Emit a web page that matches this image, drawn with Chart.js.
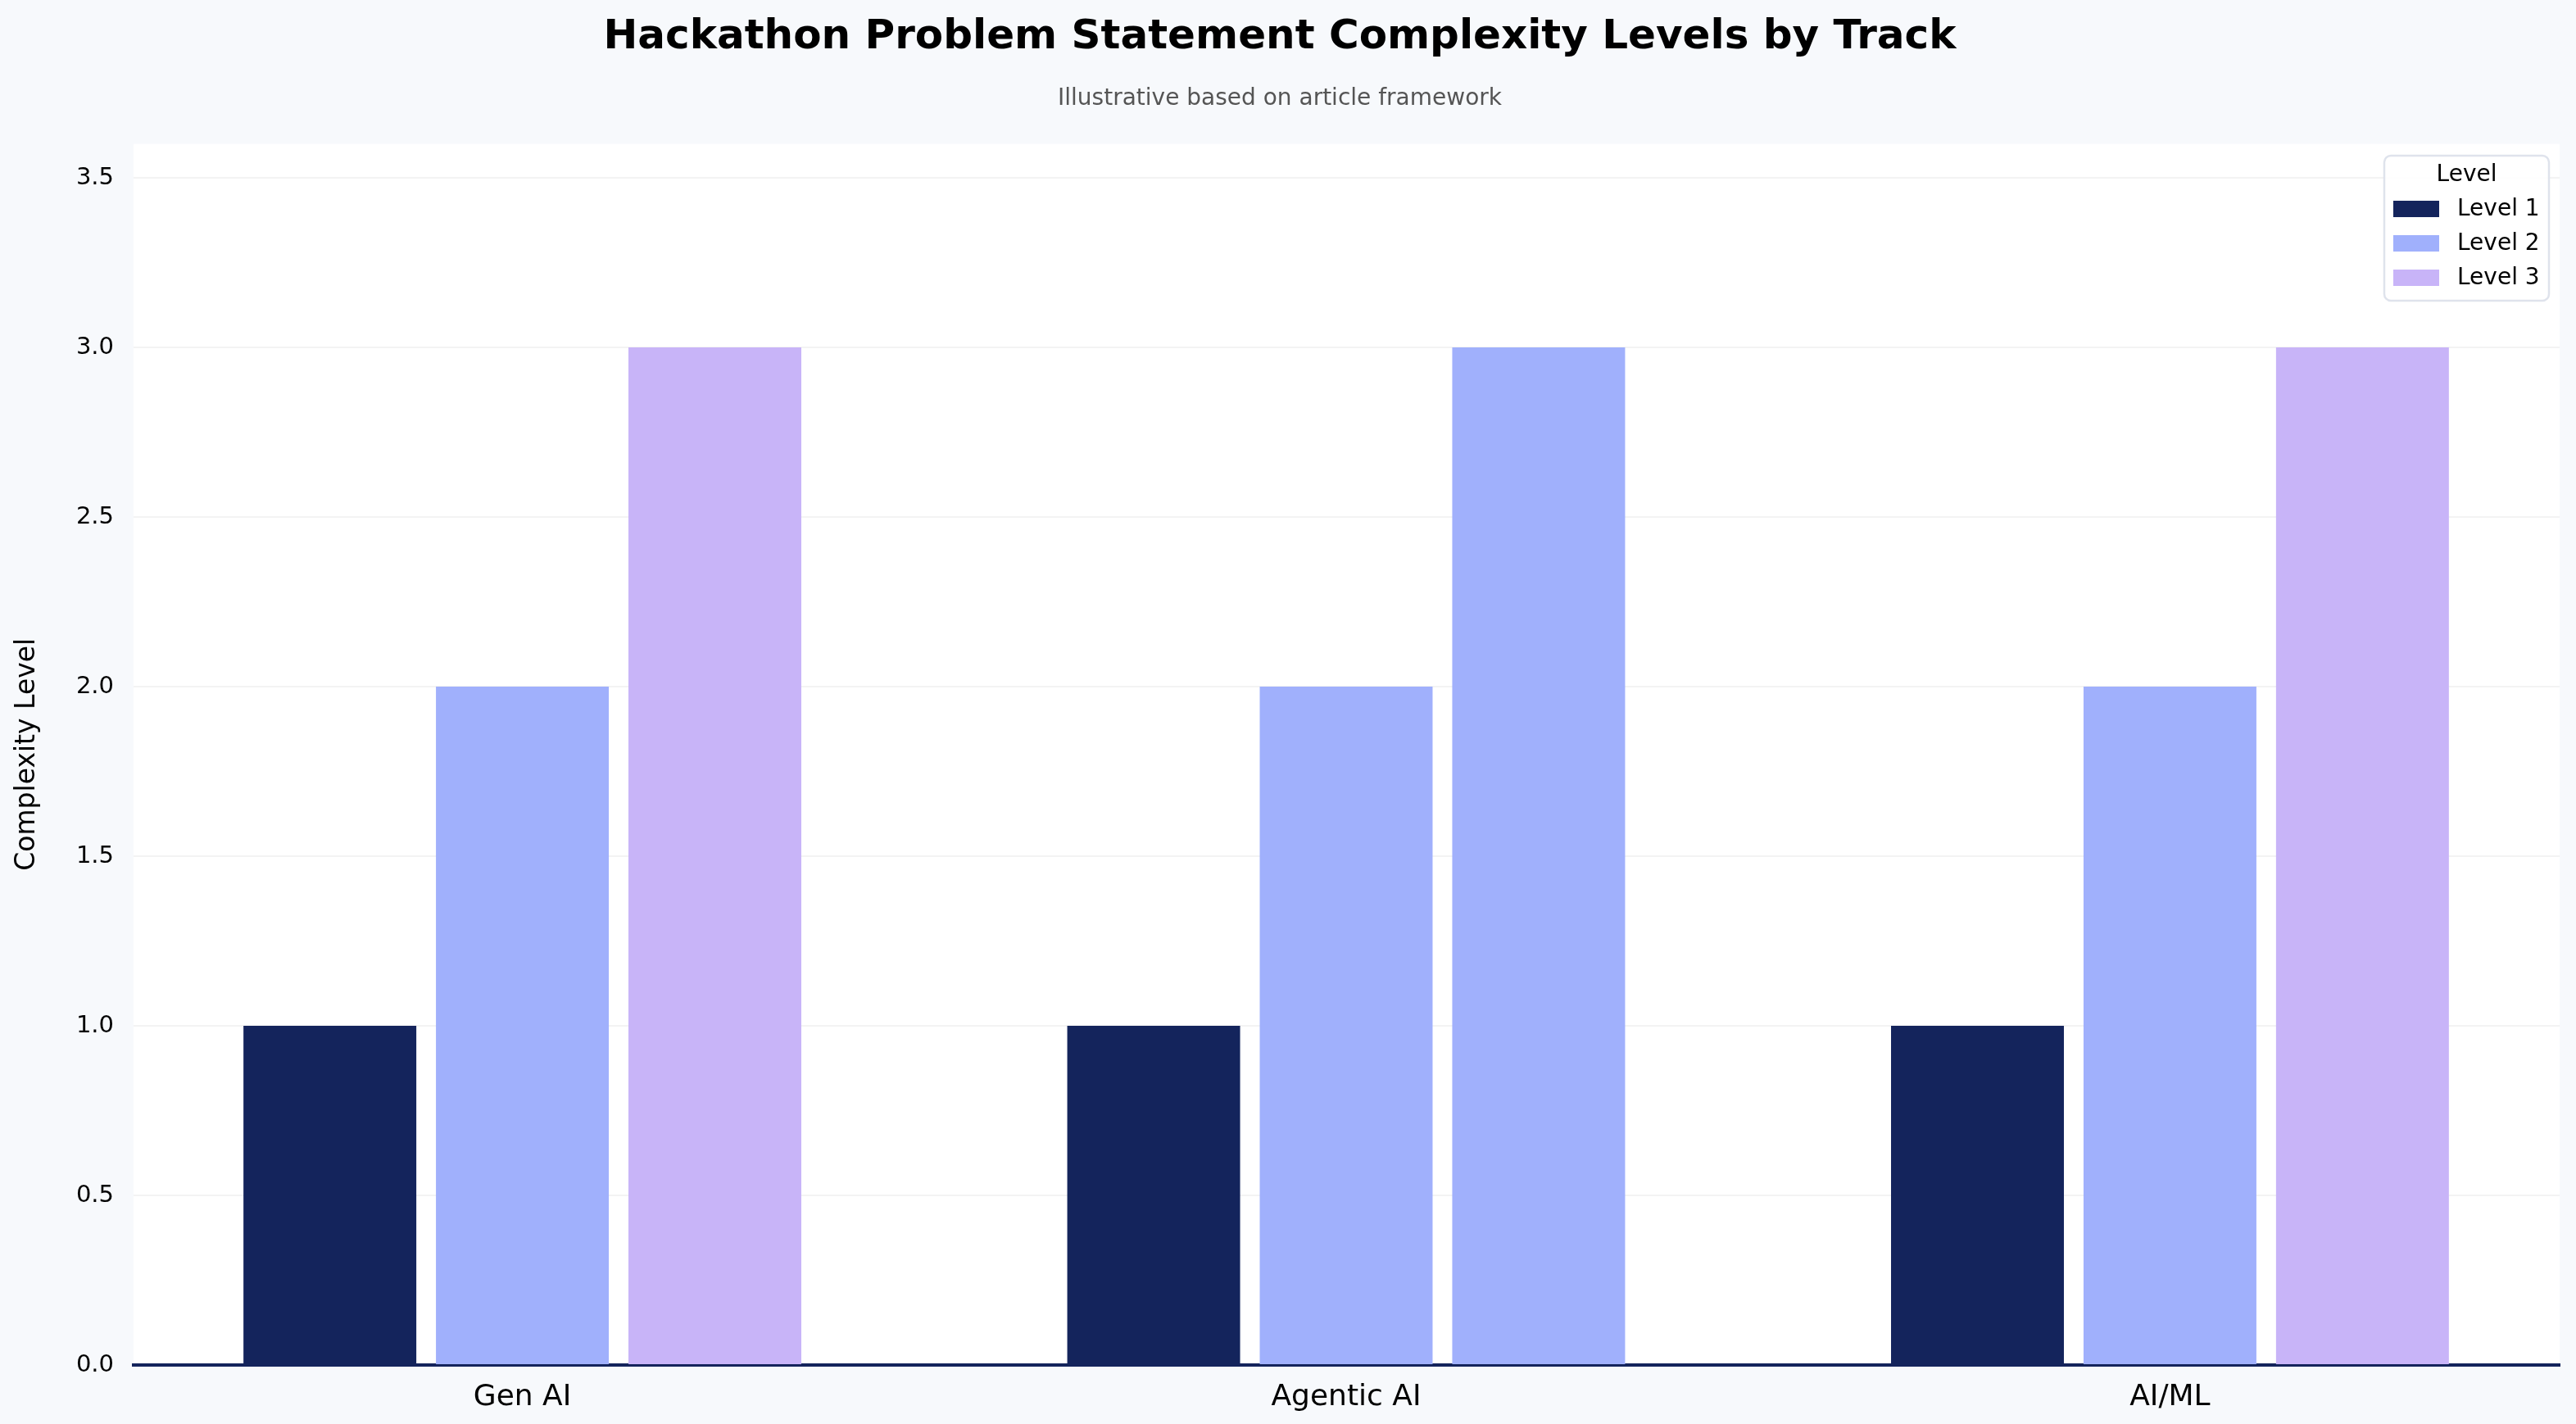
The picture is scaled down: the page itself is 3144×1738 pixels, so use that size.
<!DOCTYPE html>
<html>
<head>
<meta charset="utf-8">
<script src="https://cdn.jsdelivr.net/npm/chart.js@4/dist/chart.umd.min.js"></script>
<style>
  html, body { margin: 0; padding: 0; background: #f7f9fc; }
  #wrap { width: 3144px; height: 1738px; }
</style>
</head>
<body>
<div id="wrap"><canvas id="chart" width="3144" height="1738"></canvas></div>
<script>
// data
const tracks = ['Gen AI', 'Agentic AI', 'AI/ML'];
const levelNames = ['Level 1', 'Level 2', 'Level 3'];
const level1 = [1, 1, 1];
const level2 = [2, 2, 2];
const level3 = [3, 3, 3];
const yMax = 3.6;
const yStep = 0.5;

// colours
const navy = '#14245c';
const blue = '#a0b0fc';
const lavender = '#c8b4f8';
const level3Colors = [lavender, blue, lavender]; // Agentic AI bar is blue in the source
const font = 'DejaVu Sans';

const toPoints = vals => vals.map((v, i) => ({ x: i, y: v }));

const bgPlugin = {
    id: 'bg',
    beforeDraw(chart) {
        const { ctx, chartArea: a } = chart;
        ctx.save();
        ctx.fillStyle = '#f7f9fc';
        ctx.fillRect(0, 0, chart.width, chart.height);
        ctx.fillStyle = '#ffffff';
        ctx.fillRect(a.left, a.top, a.right - a.left, a.bottom - a.top);
        ctx.restore();
    }
};

// legend box drawn inside the plot, top right
const legendBox = {
    id: 'legendBox',
    afterDraw(chart) {
        const { ctx } = chart;
        const x = 2910, y = 190, w = 201, h = 177;
        ctx.save();
        ctx.beginPath();
        ctx.roundRect(x, y, w, h, 8);
        ctx.fillStyle = 'rgba(255,255,255,0.9)';
        ctx.fill();
        ctx.lineWidth = 2.5;
        ctx.strokeStyle = '#dfe3ec';
        ctx.stroke();
        ctx.fillStyle = '#000';
        ctx.font = `28px "${font}"`;
        ctx.textAlign = 'center';
        ctx.textBaseline = 'middle';
        ctx.fillText('Level', x + w / 2, y + 24);
        ctx.textAlign = 'left';
        chart.data.datasets.forEach((ds, i) => {
            const cy = y + 65 + i * 42;
            ctx.fillStyle = Array.isArray(ds.backgroundColor) ? ds.backgroundColor[0] : ds.backgroundColor;
            ctx.fillRect(x + 11, cy - 10, 56, 20);
            ctx.fillStyle = '#000';
            ctx.fillText(ds.label, x + 89, cy + 1);
        });
        ctx.restore();
    }
};

new Chart(document.getElementById('chart'), {
    type: 'bar',
    data: {
        datasets: [
            { label: levelNames[0], data: toPoints(level1), backgroundColor: navy },
            { label: levelNames[1], data: toPoints(level2), backgroundColor: blue },
            { label: levelNames[2], data: toPoints(level3), backgroundColor: level3Colors }
        ]
    },
    options: {
        responsive: false,
        devicePixelRatio: 1,
        animation: false,
        categoryPercentage: 0.701,
        barPercentage: 0.898,
        layout: { padding: { left: 0, right: 20, top: 0, bottom: 0 } },
        plugins: {
            legend: { display: false },
            tooltip: { enabled: false },
            title: {
                display: true,
                text: 'Hackathon Problem Statement Complexity Levels by Track',
                color: '#000',
                font: { family: font, size: 50, weight: 'bold' },
                padding: { top: 16, bottom: 12 }
            },
            subtitle: {
                display: true,
                text: 'Illustrative based on article framework',
                color: '#555',
                font: { family: font, size: 28 },
                padding: { top: 16, bottom: 38 }
            }
        },
        scales: {
            x: {
                type: 'linear',
                min: -0.472,
                max: 2.473,
                offset: false,
                grid: { display: false, drawTicks: false },
                border: { display: true, color: navy, width: 4 },
                afterFit(s) { s.height = 72; },
                ticks: {
                    stepSize: 1,
                    includeBounds: false,
                    padding: 18,
                    color: '#000',
                    font: { family: font, size: 36 },
                    callback: v => tracks[v] !== undefined && Number.isInteger(v) ? tracks[v] : ''
                }
            },
            y: {
                min: 0,
                max: yMax,
                grid: { color: '#f3f3f3', lineWidth: 2, drawTicks: false },
                border: { display: false },
                afterFit(s) { s.width = 163; },
                ticks: {
                    stepSize: yStep,
                    includeBounds: false,
                    padding: 24,
                    color: '#000',
                    font: { family: font, size: 29 },
                    callback: v => v.toFixed(1)
                },
                title: {
                    display: true,
                    text: 'Complexity Level',
                    color: '#000',
                    font: { family: font, size: 33 },
                    padding: { top: 14, bottom: 0 }
                }
            }
        }
    },
    plugins: [bgPlugin, legendBox]
});
</script>
</body>
</html>
